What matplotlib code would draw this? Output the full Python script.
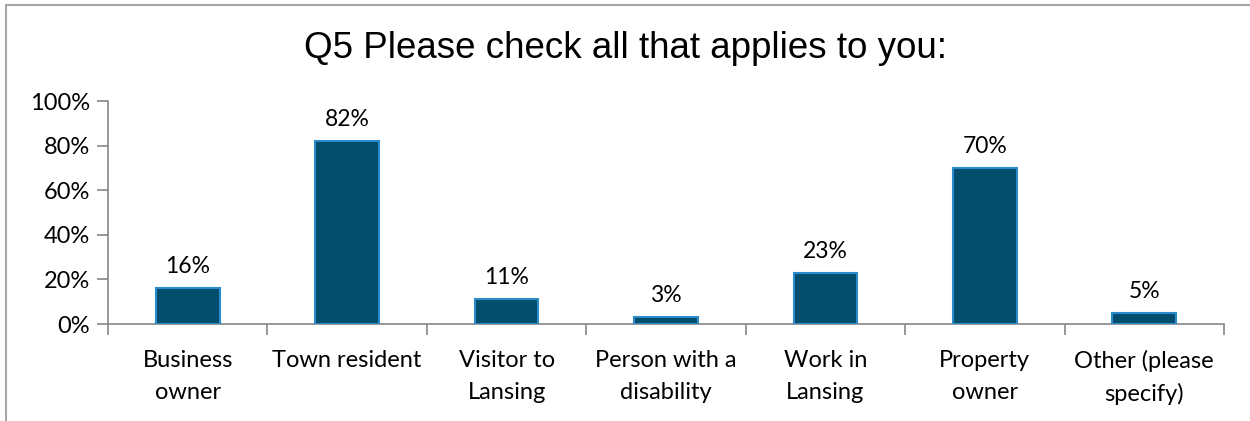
import matplotlib
matplotlib.use("Agg")
import matplotlib.pyplot as plt
from matplotlib.patches import Rectangle
from matplotlib.ticker import PercentFormatter

# chart data
categories = ["Business\nowner", "Town resident", "Visitor to\nLansing", "Person with a\ndisability",
              "Work in\nLansing", "Property\nowner", "Other (please\nspecify)"]
values = [0.16, 0.82, 0.11, 0.03, 0.23, 0.70, 0.05]
yticks = [0, 0.2, 0.4, 0.6, 0.8, 1.0]
title = "Q5 Please check all that applies to you:"

axis_grey = "#868686"
bar_fill = "#034D6D"
bar_edge = "#2A8CCB"

fig = plt.figure(figsize=(12.5, 4.21), dpi=100)
ax = fig.add_axes([0.0864, 0.2304, 0.8928, 0.5296])

x = list(range(len(categories)))
ax.bar(x, values, width=0.4, color=bar_fill, edgecolor=bar_edge, linewidth=1.5, zorder=3)

# data labels above each bar
for xi, v in zip(x, values):
    ax.annotate(f"{v*100:.0f}%", (xi, v), xytext=(0, 8), textcoords="offset points",
                ha="center", va="bottom", fontsize=16.5, family="Lato", color="#000000")

ax.set_xlim(-0.5, len(categories) - 0.5)
ax.set_ylim(0, 1)
ax.set_yticks(yticks)
ax.yaxis.set_major_formatter(PercentFormatter(1.0, decimals=0))
ax.set_xticks(x)
ax.set_xticklabels(categories, fontsize=17, family="Lato", linespacing=1.6)
ax.set_xticks([i - 0.5 for i in range(len(categories) + 1)], minor=True)
ax.tick_params(axis="x", which="major", length=0, pad=19)
ax.tick_params(axis="x", which="minor", length=8, color=axis_grey, width=1.2, direction="out")
ax.tick_params(axis="y", length=8, color=axis_grey, width=1.2, pad=5, labelsize=17)
for lab in ax.get_yticklabels():
    lab.set_family("Lato")

for side in ["top", "right"]:
    ax.spines[side].set_visible(False)
for side in ["left", "bottom"]:
    ax.spines[side].set_color(axis_grey)
    ax.spines[side].set_linewidth(1.2)

fig.text(0.5, 0.885, title, ha="center", va="center", fontsize=26.5, family="Liberation Sans")

# outer chart frame (cut off at right and bottom)
fig.patches.append(Rectangle((6 / 1250, -0.05), 1.1, (421 - 5) / 421 + 0.05, transform=fig.transFigure,
                             fill=False, edgecolor="#A6A6A6", linewidth=1.5))

fig.savefig("out.png", dpi=100)
